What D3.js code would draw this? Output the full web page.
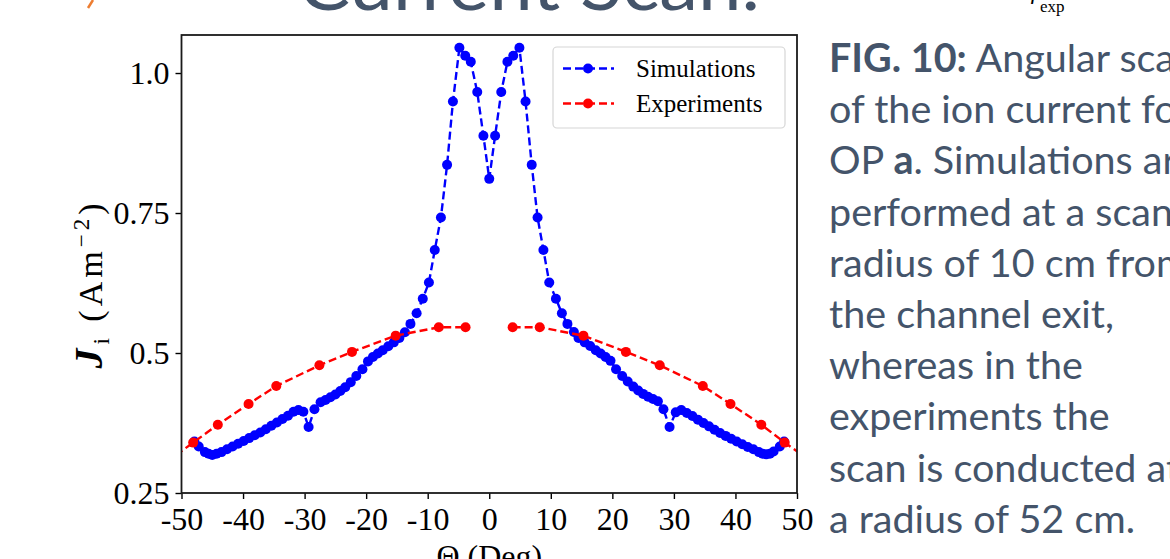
<!DOCTYPE html>
<html><head><meta charset="utf-8">
<script src="https://cdn.jsdelivr.net/npm/d3@7"></script>
<style>html,body{margin:0;padding:0;background:#fff;overflow:hidden}</style>
</head><body><svg id="c" width="1170" height="559"></svg>
<script>
// ---- data ----
const simAngle = [-47.9,-47.2,-46.2,-45.6,-45.0,-44.3,-43.5,-42.6,-41.7,-40.8,-39.9,-39.0,-38.1,-37.2,-36.3,-35.4,-34.5,-33.6,-32.7,-31.8,-31.0,-30.2,-29.35,-28.4,-27.4,-26.6,-25.8,-25.0,-24.2,-23.4,-22.5,-21.6,-20.6,-19.7,-18.9,-18.1,-17.3,-16.4,-15.5,-14.6,-13.7,-12.8,-11.8,-10.8,-9.8,-8.85,-7.85,-6.85,-5.9,-4.85,-3.9,-3.0,-1.95,-0.95,0,
  0.95,1.95,2.95,3.9,4.9,5.9,6.9,7.85,8.8,9.75,10.83,11.8,12.7,13.75,14.5,15.5,16.4,17.3,18.1,18.9,19.7,20.6,21.6,22.5,23.4,24.2,25.0,25.8,26.6,27.4,28.3,29.3,30.3,31.2,32.1,33.0,33.9,34.8,35.7,36.6,37.5,38.4,39.3,40.2,41.1,42.0,42.9,43.8,44.4,45.0,45.6,46.2,47.2,47.9];
const simCurrent = [0.342,0.333,0.323,0.320,0.318,0.320,0.323,0.328,0.333,0.338,0.343,0.348,0.353,0.358,0.364,0.370,0.376,0.382,0.388,0.395,0.398,0.395,0.368,0.3995,0.412,0.416,0.421,0.426,0.432,0.439,0.448,0.459,0.471,0.485,0.493,0.499,0.505,0.512,0.519,0.527,0.537,0.552,0.571,0.597,0.626,0.684,0.742,0.836,0.949,1.045,1.031,1.020,0.966,0.888,0.811,
  0.888,0.966,1.020,1.031,1.045,0.949,0.836,0.742,0.684,0.626,0.597,0.571,0.552,0.5375,0.527,0.519,0.5125,0.505,0.499,0.493,0.486,0.471,0.459,0.449,0.440,0.433,0.427,0.422,0.418,0.414,0.3995,0.368,0.394,0.398,0.393,0.3875,0.381,0.375,0.369,0.363,0.357,0.352,0.347,0.342,0.337,0.332,0.328,0.323,0.320,0.319,0.320,0.324,0.333,0.342];
const expAngle = [-52.5,-48.1,-44.1,-39.1,-34.6,-27.6,-22.3,-15.2,-8.2,-3.85,null,3.8,8.2,15.3,22.2,27.7,34.7,39.2,44.2,48.0,52.5];
const expCurrent = [0.305,0.340,0.372,0.409,0.441,0.478,0.502,0.531,0.546,0.546,null,0.546,0.546,0.531,0.502,0.478,0.441,0.409,0.372,0.340,0.305];
const xTicks = [-50,-40,-30,-20,-10,0,10,20,30,40,50];
const yTicks = [0.25,0.5,0.75,1.0];
const yTickLabels = ["0.25","0.5","0.75","1.0"];
const seriesNames = ["Simulations","Experiments"];
const seriesColors = ["#0000ff","#ff0000"];
const captionLines = [
  [["FIG. 10:",true],[" Angular scan",false]],
  [["of the ion current for",false]],
  [["OP ",false],["a",true],[". Simulations are",false]],
  [["performed at a scan",false]],
  [["radius of 10 cm from",false]],
  [["the channel exit,",false]],
  [["whereas in the",false]],
  [["experiments the",false]],
  [["scan is conducted at",false]],
  [["a radius of 52 cm.",false]]
];

// ---- layout ----
const svg = d3.select("#c");
const L = 181.5, R = 797, T = 35, B = 493;
const x = d3.scaleLinear().domain([-50, 50]).range([L, R]);
const y = d3.scaleLinear().domain([0.25, 1.0679]).range([B, T]);
const serif = "'Liberation Serif','DejaVu Serif',serif";
const slate = "#44546A";

// slide remnants at top
svg.append("text").attr("x", 298).attr("y", 10).attr("font-family", "Lato, 'Open Sans', sans-serif")
  .attr("font-size", 72).attr("fill", slate).attr("textLength", 462).attr("lengthAdjust","spacingAndGlyphs").text("Current Scan.");
svg.append("path").attr("d", "M93,0 L88,8").attr("stroke", "#ED7D31").attr("stroke-width", 2.5).attr("fill","none");
svg.append("text").attr("x", 1030).attr("y", 4).attr("font-family", serif).attr("font-style","italic").attr("font-size", 24).attr("fill","#000").text("r");
svg.append("text").attr("x", 1040).attr("y", 12).attr("font-family", serif).attr("font-size", 17).attr("fill","#000").text("exp");

// clip
svg.append("defs").append("clipPath").attr("id","clip").append("rect").attr("x",L).attr("y",T).attr("width",R-L).attr("height",B-T);
const plot = svg.append("g").attr("clip-path","url(#clip)");

const simData = simAngle.map((a,i)=>({a, v: simCurrent[i]}));
const expData = expAngle.map((a,i)=>({a, v: expCurrent[i]}));
const line = d3.line().defined(d => d.a !== null && d.v !== null).x(d => x(d.a)).y(d => y(d.v));

plot.append("path").datum(simData).attr("d", line).attr("fill","none").attr("stroke", seriesColors[0])
  .attr("stroke-width", 2.4).attr("stroke-dasharray","8,4");
plot.selectAll("circle.sim").data(simData).join("circle").attr("class","sim")
  .attr("cx", d=>x(d.a)).attr("cy", d=>y(d.v)).attr("r", 5).attr("fill", seriesColors[0]);

plot.append("path").datum(expData).attr("d", line).attr("fill","none").attr("stroke", seriesColors[1])
  .attr("stroke-width", 2.4).attr("stroke-dasharray","8,4");
plot.selectAll("circle.exp").data(expData.filter(d=>d.a!==null)).join("circle").attr("class","exp")
  .attr("cx", d=>x(d.a)).attr("cy", d=>y(d.v)).attr("r", 5).attr("fill", seriesColors[1]);

// axes
const xAxis = svg.append("g").attr("transform", `translate(0,${B})`)
  .call(d3.axisBottom(x).tickValues(xTicks).tickFormat(d => String(d)).tickSize(6).tickPadding(8));
const yAxis = svg.append("g").attr("transform", `translate(${L},0)`)
  .call(d3.axisLeft(y).tickValues(yTicks).tickFormat((d,i) => yTickLabels[i]).tickSize(6).tickPadding(6));
[xAxis, yAxis].forEach(g => {
  g.select(".domain").remove();
  g.selectAll(".tick line").attr("stroke","#000").attr("stroke-width",1.4);
  g.selectAll(".tick text").attr("font-family", serif).attr("font-size", 32).attr("fill","#000");
});
xAxis.selectAll(".tick text").attr("dy", "0.71em");
yAxis.selectAll(".tick text").attr("dy", "0.34em");

// frame
svg.append("rect").attr("x",L).attr("y",T).attr("width",R-L).attr("height",B-T)
  .attr("fill","none").attr("stroke","#1a1a1a").attr("stroke-width",1.8);

// axis labels
svg.append("text").attr("x", x(0)).attr("y", 567).attr("text-anchor","middle").attr("font-family", serif)
  .attr("font-size", 32).attr("fill","#000").text("Θ (Deg)");
const yl = svg.append("text").attr("transform","translate(102,284) rotate(-90)").attr("text-anchor","middle")
  .attr("font-family", serif).attr("font-size", 34).attr("fill","#000").attr("letter-spacing", 4);
yl.append("tspan").attr("font-style","italic").attr("font-weight","bold").attr("font-size", 40).text("J");
yl.append("tspan").attr("font-size", 23).attr("dy", 7).attr("dx", 0).text("i");
yl.append("tspan").attr("dy", -7).text(" (Am");
yl.append("tspan").attr("font-size", 23).attr("dy", -13).text("−2");
yl.append("tspan").attr("dy", 13).text(")");

// legend
const lg = svg.append("g");
lg.append("rect").attr("x",553).attr("y",47).attr("width",232).attr("height",81).attr("rx",4)
  .attr("fill","#fff").attr("fill-opacity",0.8).attr("stroke","#d6d6d6").attr("stroke-width",1.2);
seriesNames.forEach((n,i) => {
  const yy = 68.5 + i*35;
  lg.append("line").attr("x1",563).attr("x2",614).attr("y1",yy).attr("y2",yy)
    .attr("stroke",seriesColors[i]).attr("stroke-width",2.4).attr("stroke-dasharray","8,4");
  lg.append("circle").attr("cx",588).attr("cy",yy).attr("r",5).attr("fill",seriesColors[i]);
  lg.append("text").attr("x",636).attr("y",yy).attr("dy","0.35em").attr("font-family",serif)
    .attr("font-size",25).attr("fill","#000").text(n);
});

// caption
const cap = svg.append("g");
captionLines.forEach((parts,i) => {
  const t = cap.append("text").attr("x",829).attr("y",72 + i*51.2).attr("font-family","Lato, 'Open Sans', sans-serif")
    .attr("font-size",39.5).attr("fill",slate);
  parts.forEach(p => t.append("tspan").attr("font-weight", p[1] ? "bold" : "normal").text(p[0]));
});
</script></body></html>
